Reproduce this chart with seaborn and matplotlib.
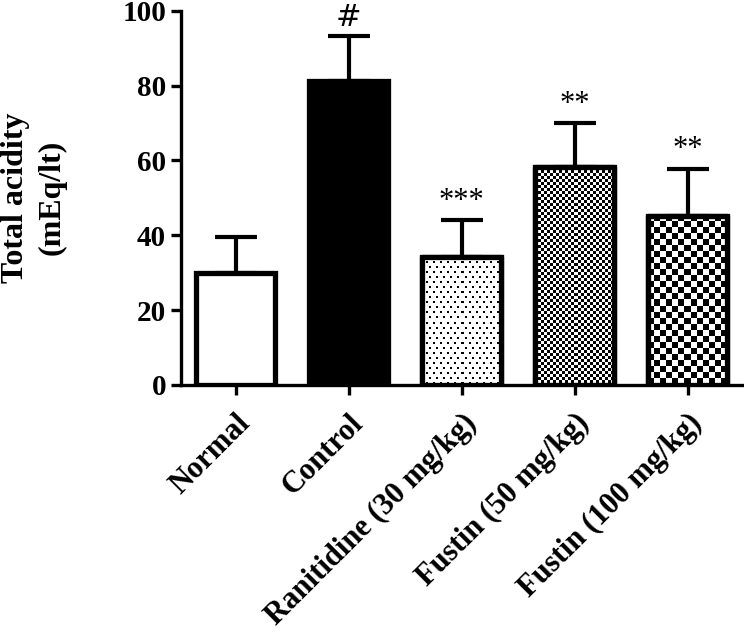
import numpy as np
import matplotlib
matplotlib.use('Agg')
import matplotlib.pyplot as plt
import matplotlib.patches as mpatches
import seaborn as sns

# Data
groups = ['Normal', 'Control', 'Ranitidine (30 mg/kg)', 'Fustin (50 mg/kg)', 'Fustin (100 mg/kg)']
means = [30.0, 81.2, 34.3, 58.2, 45.2]
errors = [9.6, 12.1, 9.8, 11.8, 12.6]
marks = ['', '#', '***', '**', '**']

# Fill style per bar: 'white', 'black', 'dots', 'fine', 'coarse'
fills = ['white', 'black', 'dots', 'fine', 'coarse']

sns.set_style('ticks')
plt.rcParams['font.family'] = ['Liberation Serif', 'DejaVu Serif']
plt.rcParams['font.weight'] = 'bold'
for k in ['axes.edgecolor', 'xtick.color', 'ytick.color', 'text.color',
          'axes.labelcolor', 'xtick.labelcolor', 'ytick.labelcolor']:
    plt.rcParams[k] = 'black'

fig = plt.figure(figsize=(7.44, 6.33), dpi=100)
ax = fig.add_axes([0.243, 0.392, 0.757, 0.591])

sns.barplot(x=groups, y=means, color='white', edgecolor='black',
            linewidth=3.8, errorbar=None, width=0.7, ax=ax, zorder=2)

ax.set_xlim(-0.487, 4.5)
ax.set_ylim(0, 100)


def pattern(kind, nx, ny):
    yy, xx = np.indices((ny, nx))
    if kind == 'dots':
        shift = ((yy // 5) % 2) * 3
        return ((yy % 5 < 2) & ((xx + shift) % 7 < 2)).astype(float)
    if kind == 'fine':
        return (((xx // 3) + (yy // 3)) % 2).astype(float)
    if kind == 'coarse':
        return (((xx // 6) + (yy // 6)) % 2).astype(float)
    return np.zeros((ny, nx))


for p, kind in zip(ax.patches, fills):
    if kind == 'black':
        p.set_facecolor('black')
        continue
    if kind == 'white':
        continue
    x0, y0 = p.get_x(), p.get_y()
    w, h = p.get_width(), p.get_height()
    (dx0, dy0), (dx1, dy1) = ax.transData.transform([(x0, y0), (x0 + w, y0 + h)])
    nx, ny = int(round(dx1 - dx0)), int(round(dy1 - dy0))
    img = pattern(kind, nx, ny)
    im = ax.imshow(img, extent=(x0, x0 + w, y0, y0 + h), cmap='gray_r',
                   vmin=0, vmax=1, aspect='auto', interpolation='nearest',
                   origin='upper', zorder=2.5)
    im.set_clip_path(p)
    ax.add_patch(mpatches.Rectangle((x0, y0), w, h, fill=False,
                                    edgecolor='black', linewidth=3.8,
                                    joinstyle='round', zorder=3))

xpos = np.arange(len(groups))
eb = ax.errorbar(xpos, means, yerr=[np.zeros(len(errors)), errors], fmt='none',
                 ecolor='black', elinewidth=3.0, capsize=15, capthick=3.0, zorder=1.5)
for cap in eb[1]:
    cap.set_solid_capstyle('round')

for x, m, e, t in zip(xpos, means, errors, marks):
    if t:
        ax.annotate(t, (x, m + e), xytext=(0, 3), textcoords='offset points',
                    ha='center', va='bottom', fontsize=22, fontweight='normal',
                    family=['DejaVu Sans'] if t == '#' else ['Liberation Serif'],
                    annotation_clip=False)

ax.set_xlim(-0.487, 4.5)
ax.set_ylim(0, 100)
ax.set_yticks([0, 20, 40, 60, 80, 100])
ax.set_ylabel('Total acidity\n(mEq/lt)', fontsize=23, fontweight='bold', linespacing=1.35)
ax.yaxis.set_label_coords(-0.202, 0.5)
ax.tick_params(axis='both', width=2.4, length=7, direction='out', labelsize=21)
ax.set_xticks(xpos)
ax.set_xticklabels(groups, rotation=45, ha='right', rotation_mode='anchor',
                   fontweight='bold', fontsize=22)
ax.tick_params(axis='x', pad=10)
for lab in ax.get_yticklabels():
    lab.set_fontweight('bold')
for s in ['left', 'bottom']:
    ax.spines[s].set_linewidth(2.4)
sns.despine(ax=ax)

fig.savefig('out.png', dpi=100)
